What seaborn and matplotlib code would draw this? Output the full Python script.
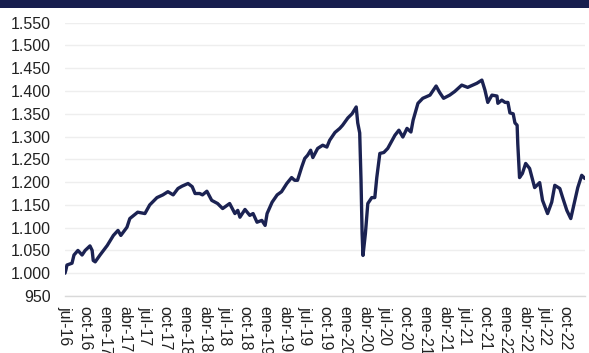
import matplotlib
matplotlib.use("Agg")
import matplotlib.pyplot as plt
import matplotlib.ticker as mticker
from matplotlib.patches import Rectangle
import pandas as pd
import seaborn as sns

dates = [
    "2016-07-01", "2016-07-05", "2016-07-10", "2016-08-02", "2016-08-11", "2016-08-29",
    "2016-09-17", "2016-10-01", "2016-10-23", "2016-11-02", "2016-11-07", "2016-11-16",
    "2016-12-08", "2017-01-10", "2017-02-07", "2017-02-28", "2017-03-13", "2017-04-10",
    "2017-04-23", "2017-05-29", "2017-07-01", "2017-07-23", "2017-08-25", "2017-09-21",
    "2017-10-14", "2017-11-07", "2017-11-29", "2017-12-17", "2018-01-14", "2018-02-02",
    "2018-02-15", "2018-03-08", "2018-03-21", "2018-04-10", "2018-05-02", "2018-05-29",
    "2018-06-21", "2018-07-23", "2018-08-16", "2018-08-29", "2018-09-08", "2018-10-01",
    "2018-10-23", "2018-11-07", "2018-11-25", "2018-12-17", "2019-01-01", "2019-01-10",
    "2019-02-02", "2019-02-25", "2019-03-17", "2019-04-10", "2019-05-02", "2019-05-16",
    "2019-05-29", "2019-06-17", "2019-07-01", "2019-07-14", "2019-07-28", "2019-08-07",
    "2019-08-29", "2019-09-21", "2019-10-10", "2019-10-23", "2019-11-16", "2019-12-08",
    "2019-12-21", "2020-01-14", "2020-02-02", "2020-02-21", "2020-02-28", "2020-03-08",
    "2020-03-14", "2020-03-19", "2020-03-23", "2020-04-03", "2020-04-14", "2020-05-02",
    "2020-05-16", "2020-05-25", "2020-06-08", "2020-06-26", "2020-07-14", "2020-08-16",
    "2020-09-03", "2020-09-21", "2020-10-10", "2020-10-28", "2020-11-07", "2020-11-29",
    "2020-12-21", "2021-01-23", "2021-02-20", "2021-03-08", "2021-03-26", "2021-04-23",
    "2021-05-16", "2021-06-17", "2021-07-14", "2021-08-07", "2021-08-25", "2021-09-17",
    "2021-10-01", "2021-10-14", "2021-11-02", "2021-11-25", "2021-11-29", "2021-12-17",
    "2022-01-01", "2022-01-14", "2022-01-23", "2022-02-07", "2022-02-15", "2022-02-25",
    "2022-02-28", "2022-03-08", "2022-03-21", "2022-04-05", "2022-04-23", "2022-05-16",
    "2022-06-08", "2022-06-21", "2022-07-14", "2022-08-02", "2022-08-16", "2022-09-08",
    "2022-09-21", "2022-10-10", "2022-10-28", "2022-11-16", "2022-11-29", "2022-12-17",
    "2022-12-31",
]
values = [
    1000, 1007, 1018, 1022, 1040, 1050,
    1040, 1050, 1060, 1050, 1028, 1025,
    1040, 1061, 1083, 1094, 1083, 1101,
    1120, 1134, 1131, 1150, 1166, 1172,
    1179, 1172, 1186, 1191, 1197, 1190,
    1175, 1175, 1172, 1180, 1160, 1153,
    1142, 1153, 1131, 1138, 1123, 1140,
    1127, 1131, 1112, 1116, 1105, 1131,
    1156, 1172, 1179, 1197, 1210, 1204,
    1204, 1233, 1252, 1259, 1270, 1254,
    1274, 1281, 1277, 1292, 1309, 1318,
    1325, 1341, 1350, 1365, 1330, 1308,
    1204, 1087, 1039, 1087, 1153, 1166,
    1166, 1210, 1263, 1265, 1274, 1303,
    1314, 1299, 1318, 1310, 1336, 1373,
    1384, 1391, 1411, 1397, 1384, 1391,
    1399, 1413, 1408, 1413, 1417, 1424,
    1402, 1375, 1391, 1389, 1373, 1380,
    1375, 1375, 1352, 1350, 1330, 1325,
    1284, 1210, 1219, 1241, 1230, 1188,
    1199, 1160, 1131, 1156, 1193, 1186,
    1166, 1138, 1120, 1160, 1188, 1215,
    1208,
]

tick_dates = [
    "2016-07-01", "2016-10-01", "2017-01-01", "2017-04-01", "2017-07-01", "2017-10-01",
    "2018-01-01", "2018-04-01", "2018-07-01", "2018-10-01", "2019-01-01", "2019-04-01",
    "2019-07-01", "2019-10-01", "2020-01-01", "2020-04-01", "2020-07-01", "2020-10-01",
    "2021-01-01", "2021-04-01", "2021-07-01", "2021-10-01", "2022-01-01", "2022-04-01",
    "2022-07-01", "2022-10-01",
]
tick_labels = [
    "jul-16", "oct-16", "ene-17", "abr-17", "jul-17", "oct-17",
    "ene-18", "abr-18", "jul-18", "oct-18", "ene-19", "abr-19",
    "jul-19", "oct-19", "ene-20", "abr-20", "jul-20", "oct-20",
    "ene-21", "abr-21", "jul-21", "oct-21", "ene-22", "abr-22",
    "jul-22", "oct-22",
]
y_ticks = [950, 1000, 1050, 1100, 1150, 1200, 1250, 1300, 1350, 1400, 1450, 1500, 1550]

sns.set_style("white")
plt.rcParams["font.family"] = ["Liberation Sans", "DejaVu Sans"]

df = pd.DataFrame({"fecha": pd.to_datetime(dates), "valor": values})

W, H = 589, 353
fig = plt.figure(figsize=(W / 100, H / 100), dpi=100)
ax = fig.add_axes([65 / W, 1 - 296 / H, (585 - 65) / W, (296 - 22.7) / H])

sns.lineplot(data=df, x="fecha", y="valor", ax=ax, color="#1b2252", linewidth=2.4)

ax.set_xlim(pd.Timestamp("2016-07-01"), pd.Timestamp("2023-01-01"))
ax.set_ylim(950, 1550)
ax.set_yticks(y_ticks)
ax.yaxis.set_major_formatter(mticker.FuncFormatter(lambda v, p: f"{int(v):,}".replace(",", ".")))
ax.set_xticks(pd.to_datetime(tick_dates))
ax.set_xticklabels(tick_labels, rotation=270, ha="center", va="top")
ax.tick_params(axis="both", length=0, labelsize=11.5, colors="#222222")
ax.tick_params(axis="y", pad=10)
ax.tick_params(axis="x", pad=7)
ax.set_xlabel("")
ax.set_ylabel("")
ax.grid(axis="y", color="#eeeeee", linewidth=1)
ax.grid(axis="x", visible=False)
for s in ["top", "right", "left"]:
    ax.spines[s].set_visible(False)
ax.spines["bottom"].set_color("#d9d9d9")
ax.spines["bottom"].set_linewidth(1)

fig.patches.append(Rectangle((0, 1 - 8 / H), 1, 8 / H, transform=fig.transFigure,
                             facecolor="#171e4e", edgecolor="none"))

fig.savefig("out.png", dpi=100)
